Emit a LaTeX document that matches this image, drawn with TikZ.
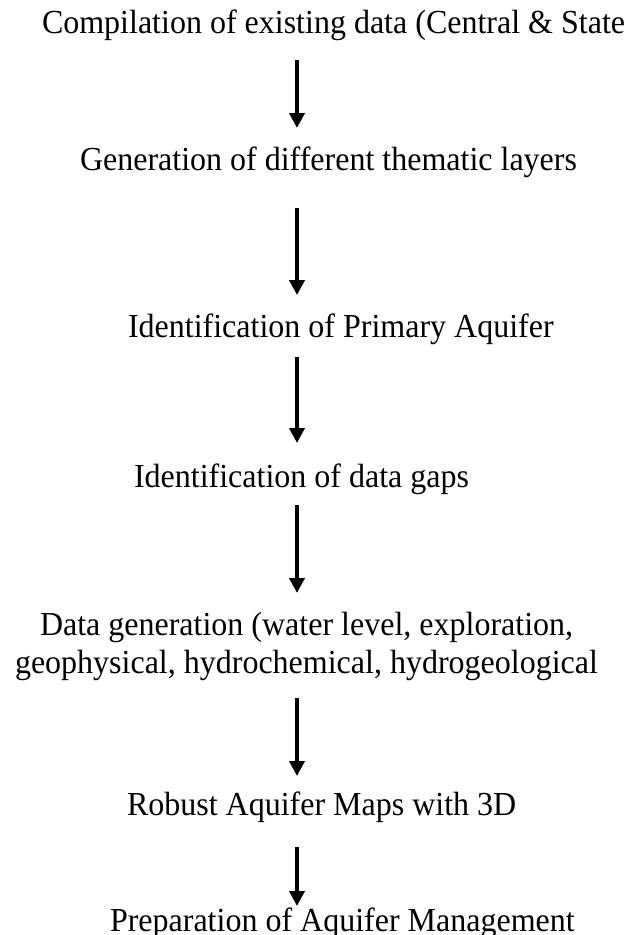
\documentclass[tikz,border=0pt]{standalone}
\usepackage{graphicx}
\usepackage{fontspec}
\setmainfont{Liberation Serif}
\usetikzlibrary{arrows.meta}
\newcommand{\tallertext}[1]{\scalebox{1}[1.05]{#1}}
\begin{document}
\begin{tikzpicture}[x=0.75pt,y=-0.75pt,
  lbl/.style={anchor=base west, inner sep=0pt, outer sep=0pt, font=\fontsize{24}{30}\selectfont},
  flow/.style={line width=3pt, -{Triangle[width=11.25pt,length=11.25pt]}}]
\useasboundingbox (0,0) rectangle (628,935);
\node[lbl] (t1) at (42,33) {\tallertext{Compilation of existing data (Central \& State}};
\node[lbl] (t2) at (80,170) {\tallertext{Generation of different thematic layers}};
\node[lbl] (t3) at (128,337) {\tallertext{Identification of Primary Aquifer}};
\node[lbl] (t4) at (134,487) {\tallertext{Identification of data gaps}};
\node[lbl] (t5) at (40,635) {\tallertext{Data generation (water level, exploration,}};
\node[lbl] (t6) at (15,673) {\tallertext{geophysical, hydrochemical, hydrogeological}};
\node[lbl] (t7) at (127,815) {\tallertext{Robust Aquifer Maps with 3D}};
\node[lbl] (t8) at (110,931) {\tallertext{Preparation of Aquifer Management}};
\coordinate (a1s) at (297,60);  \coordinate (a1e) at (297,128);
\coordinate (a2s) at (297,208); \coordinate (a2e) at (297,295);
\coordinate (a3s) at (297,357); \coordinate (a3e) at (297,443);
\coordinate (a4s) at (297,505); \coordinate (a4e) at (297,593);
\coordinate (a5s) at (297,698); \coordinate (a5e) at (297,776);
\coordinate (a6s) at (297,847); \coordinate (a6e) at (297,906);
\draw[flow] (a1s) -- (a1e);
\draw[flow] (a2s) -- (a2e);
\draw[flow] (a3s) -- (a3e);
\draw[flow] (a4s) -- (a4e);
\draw[flow] (a5s) -- (a5e);
\draw[flow] (a6s) -- (a6e);
\end{tikzpicture}
\end{document}
